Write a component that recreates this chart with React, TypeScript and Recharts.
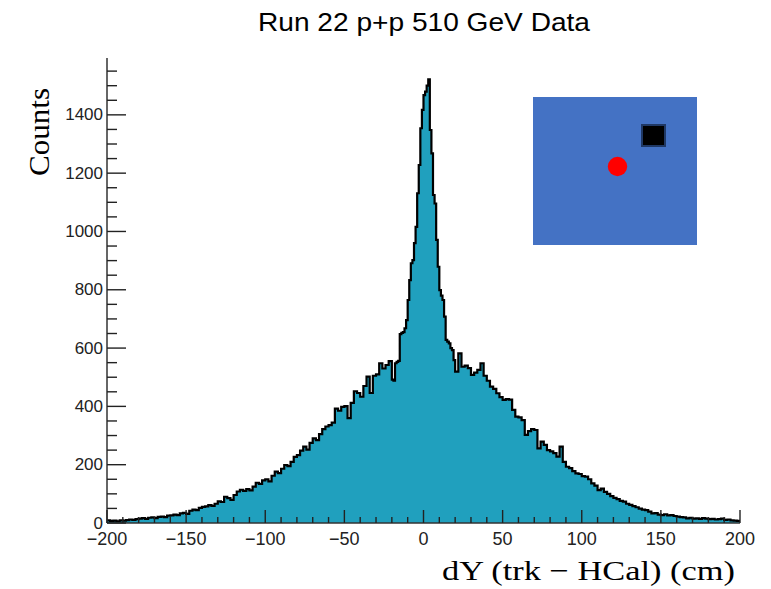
import { AreaChart, Area, XAxis, YAxis } from "recharts";

// dY histogram
// 2 cm bins from -200 to -20
const leftTail = [
  9, 7, 8, 6, 9, 8, 10, 12, 11, 13,
  15, 17, 14, 18, 19, 17, 21, 22, 20, 25,
  26, 29, 27, 33, 35, 31, 42, 46, 44, 52,
  55, 57, 61, 59, 66, 74, 72, 90, 85, 79,
  96, 108, 114, 110, 116, 112, 125, 138, 134, 146,
  150, 143, 162, 176, 171, 186, 199, 195, 210, 227,
  233, 248, 262, 252, 275, 290, 284, 305, 322, 331,
  336, 344, 392, 385, 398, 401, 360, 412, 452, 446,
  433, 470, 502, 446, 505, 510, 548, 530, 542, 555,
];

// 1 cm bins from -20 to 20 (the peak)
const core = [
  492, 488, 548, 553, 556, 648, 652, 655, 668, 696,
  765, 833, 891, 902, 960, 1016, 1131, 1228, 1354, 1417,
  1468, 1480, 1500, 1522, 1348, 1268, 1125, 1096, 971, 879,
  799, 780, 765, 708, 628, 622, 616, 600, 593, 559,
];

// 2 cm bins from 20 to 200
const rightTail = [
  519, 582, 536, 540, 531, 508, 516, 525, 548, 505,
  488, 468, 460, 445, 432, 422, 425, 423, 388, 365,
  362, 353, 302, 315, 322, 319, 256, 279, 268, 250,
  246, 240, 228, 262, 210, 193, 188, 178, 170, 168,
  161, 159, 150, 136, 128, 113, 118, 107, 100, 92,
  86, 82, 76, 73, 66, 62, 58, 54, 49, 46,
  44, 39, 33, 34, 29, 27, 30, 26, 27, 24,
  22, 20, 19, 16, 18, 15, 16, 14, 17, 15,
  13, 14, 12, 13, 15, 11, 12, 9, 8, 7,
];

const xTicks = [
  -200, -190, -180, -170, -160, -150, -140, -130, -120, -110, -100,
  -90, -80, -70, -60, -50, -40, -30, -20, -10, 0,
  10, 20, 30, 40, 50, 60, 70, 80, 90, 100,
  110, 120, 130, 140, 150, 160, 170, 180, 190, 200,
];
const xMajor = [-200, -150, -100, -50, 0, 50, 100, 150, 200];

const yTicks = [
  0, 50, 100, 150, 200, 250, 300, 350, 400, 450, 500, 550, 600, 650, 700, 750,
  800, 850, 900, 950, 1000, 1050, 1100, 1150, 1200, 1250, 1300, 1350, 1400,
  1450, 1500, 1550,
];
const yMajor = [0, 200, 400, 600, 800, 1000, 1200, 1400];

const yMax = 1595;

// bin left edges -> step area points
const data: { x: number; count: number }[] = [];
leftTail.forEach((v, i) => data.push({ x: -200 + 2 * i, count: v }));
core.forEach((v, i) => data.push({ x: -20 + i, count: v }));
rightTail.forEach((v, i) => data.push({ x: 20 + 2 * i, count: v }));
data.push({ x: 200, count: rightTail[rightTail.length - 1] });

const sans = "'Liberation Sans', Arial, Helvetica, sans-serif";
const serif = "'Liberation Serif', 'DejaVu Serif', serif";

const fmt = (v: number) => (v < 0 ? `\u2212${-v}` : `${v}`);

const XTick = (props: any) => {
  const { x, y, payload } = props;
  const major = xMajor.includes(payload.value);
  return (
    <g>
      <line x1={x} y1={y} x2={x} y2={y - (major ? 13 : 6)} stroke="#222" strokeWidth={1.4} />
      {major && (
        <text x={x} y={y + 16} textAnchor="middle" dominantBaseline="central" fontFamily={sans} fontSize={18} fill="#222">
          {fmt(payload.value)}
        </text>
      )}
    </g>
  );
};

const YTick = (props: any) => {
  const { x, y, payload } = props;
  const major = yMajor.includes(payload.value);
  return (
    <g>
      <line x1={x} y1={y} x2={x + (major ? 19 : 10)} y2={y} stroke="#222" strokeWidth={1.4} />
      {major && (
        <text x={x - 4} y={y} textAnchor="end" dominantBaseline="central" fontFamily={sans} fontSize={17} fill="#222">
          {payload.value}
        </text>
      )}
    </g>
  );
};

export default function App() {
  return (
    <div style={{ position: "absolute", left: 0, top: 0, width: 771, height: 589, background: "#fff" }}>
      <AreaChart
        width={771}
        height={589}
        data={data}
        margin={{ top: 58, right: 31, left: 47, bottom: 36 }}
      >
        <Area
          type="stepAfter"
          dataKey="count"
          xAxisId="bottom"
          yAxisId="left"
          stroke="#000"
          strokeWidth={2.2}
          fill="#20a0be"
          fillOpacity={1}
          dot={false}
          activeDot={false}
          isAnimationActive={false}
        />
        <XAxis
          xAxisId="bottom"
          type="number"
          dataKey="x"
          domain={[-200, 200]}
          ticks={xTicks}
          interval={0}
          height={30}
          tickSize={0}
          tickMargin={0}
          tickLine={false}
          tick={<XTick />}
          axisLine={{ stroke: "#333", strokeWidth: 1.5 }}
        />
        <XAxis
          xAxisId="top"
          orientation="top"
          type="number"
          domain={[-200, 200]}
          height={0}
          tick={false}
          tickLine={false}
          axisLine={{ stroke: "#666", strokeWidth: 1.5 }}
        />
        <YAxis
          yAxisId="left"
          type="number"
          domain={[0, yMax]}
          ticks={yTicks}
          interval={0}
          width={60}
          tickSize={0}
          tickMargin={0}
          tickLine={false}
          tick={<YTick />}
          axisLine={{ stroke: "#333", strokeWidth: 1.5 }}
        />
        <YAxis
          yAxisId="right"
          orientation="right"
          type="number"
          domain={[0, yMax]}
          width={0}
          tick={false}
          tickLine={false}
          axisLine={{ stroke: "#666", strokeWidth: 1.5 }}
        />
      </AreaChart>
      <svg width={771} height={589} style={{ position: "absolute", left: 0, top: 0, pointerEvents: "none" }}>
        <text x={258} y={31} fontFamily={sans} fontSize={25} fill="#000" textLength={332} lengthAdjust="spacingAndGlyphs">
          Run 22 p+p 510 GeV Data
        </text>
        <text
          x={49}
          y={132}
          transform="rotate(-90, 49, 132)"
          textAnchor="middle"
          fontFamily={serif}
          fontSize={30}
          fill="#000"
          textLength={88}
          lengthAdjust="spacingAndGlyphs"
        >
          Counts
        </text>
        <text x={442} y={580} fontFamily={serif} fontSize={28} fill="#000" textLength={293} lengthAdjust="spacingAndGlyphs">
          dY (trk {"\u2212"} HCal) (cm)
        </text>
        <rect x={533} y={97} width={164} height={148} fill="#4472c4" />
        <rect x={642} y={125} width={23} height={21} fill="#000" stroke="#1f3864" strokeWidth={2} />
        <circle cx={617.5} cy={166.5} r={9.7} fill="#ff0000" />
      </svg>
    </div>
  );
}
